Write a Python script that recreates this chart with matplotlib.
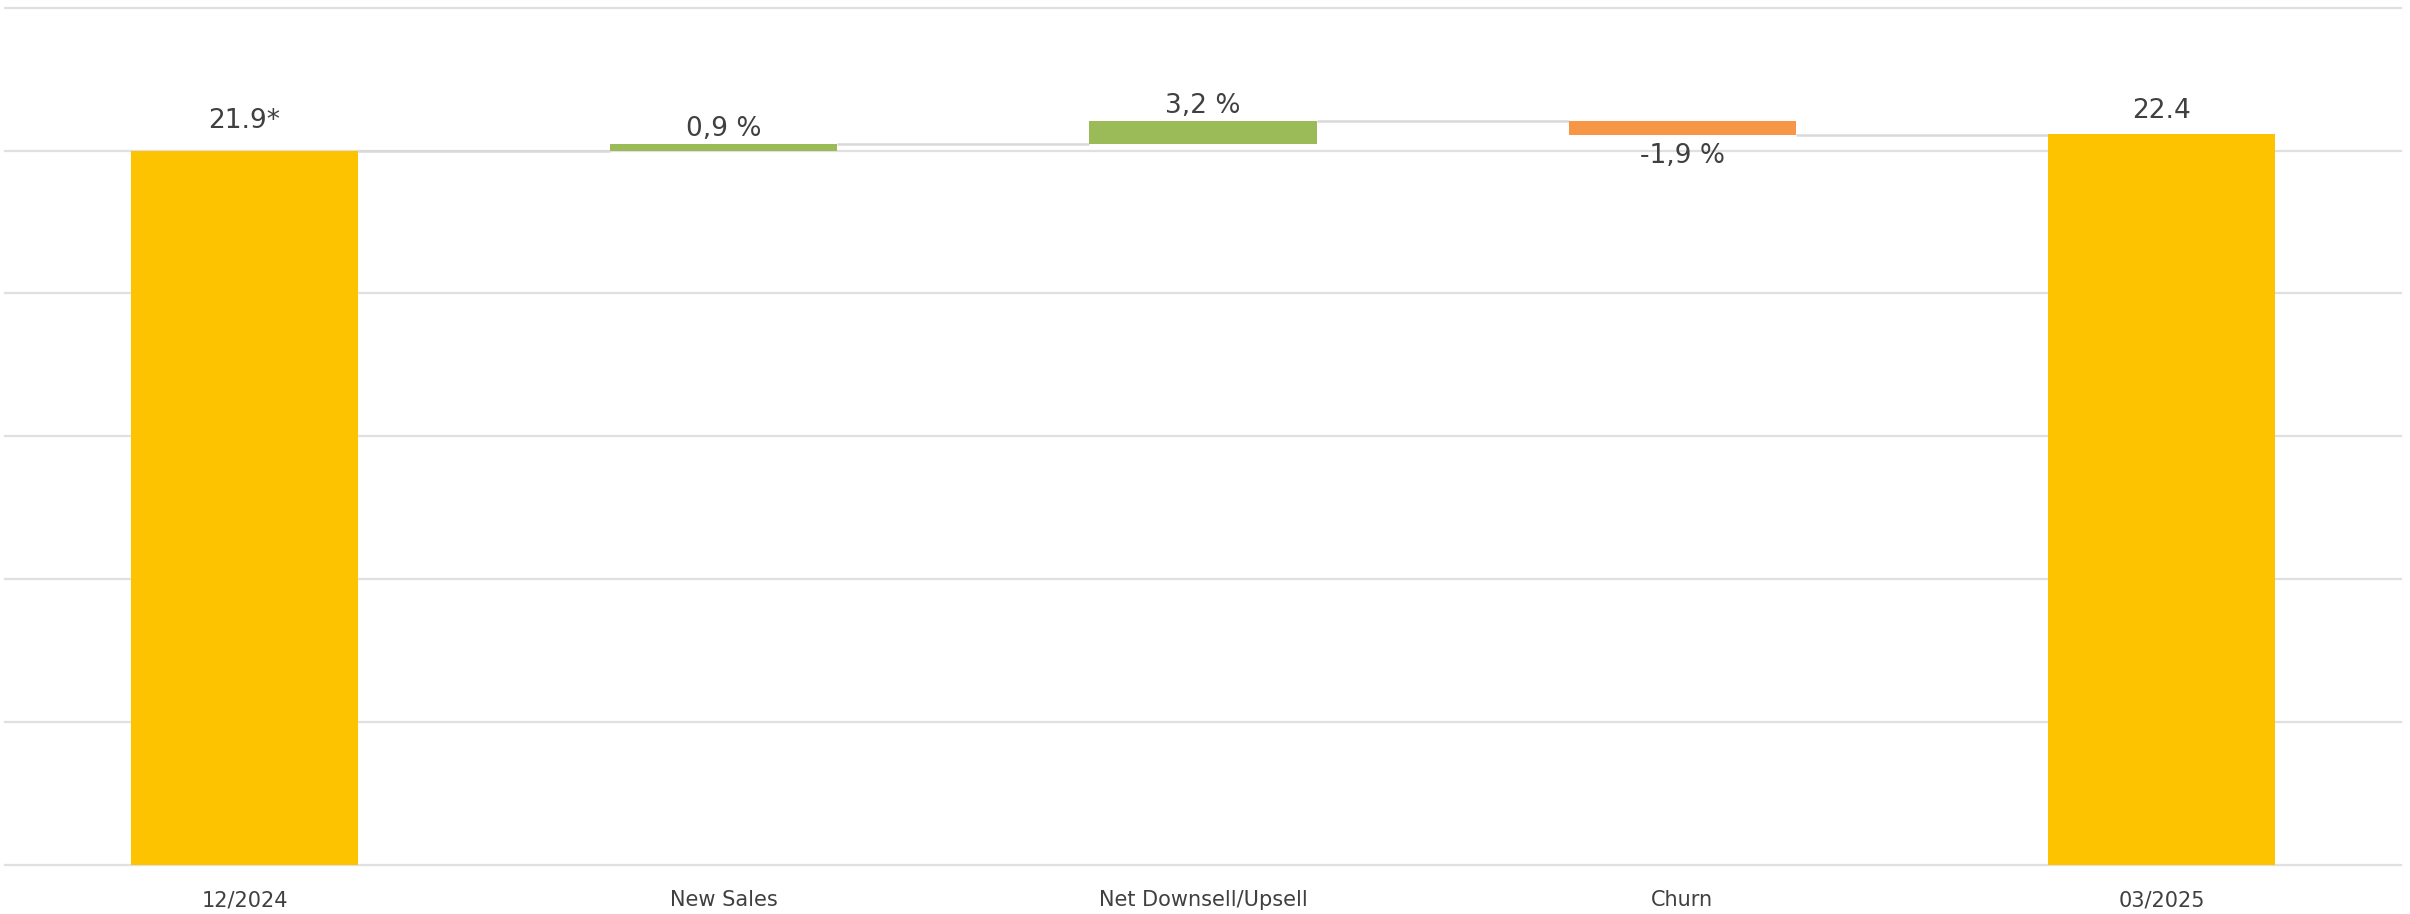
import matplotlib
matplotlib.use("Agg")
import matplotlib.pyplot as plt
import numpy as np

categories = ["12/2024", "New Sales", "Net Downsell/Upsell", "Churn", "03/2025"]
start_value = 21.9
deltas = [0.2, 0.7, -0.42]
end_value = 22.4
labels = ["21.9*", "0,9 %", "3,2 %", "-1,9 %", "22.4"]

plt.rcParams['font.family'] = ['Liberation Sans Narrow', 'DejaVu Sans']

fig = plt.figure(figsize=(24.10, 9.14), dpi=100)
ax = fig.add_axes([5 / 2410, 1 - 865 / 914, 2396 / 2410, (865 - 7.7) / 914])

yellow = "#FDC300"
green = "#9BBB59"
orange = "#F79646"
grid_c = "#E0E0E0"
conn_c = "#D9D9D9"
text_c = "#404040"

x = np.arange(len(categories))
w = 0.474

bottoms, heights, colors = [], [], []
bottoms.append(0); heights.append(start_value); colors.append(yellow)
running = start_value
levels = [start_value]
for d in deltas:
    if d >= 0:
        bottoms.append(running); heights.append(d); colors.append(green)
    else:
        bottoms.append(running + d); heights.append(-d); colors.append(orange)
    running += d
    levels.append(running)
bottoms.append(0); heights.append(end_value); colors.append(yellow)

step = start_value / 5
ax.set_ylim(0, step * 6)
ax.set_xlim(-0.5, len(categories) - 0.5)
for k in range(7):
    ax.axhline(k * step, color=grid_c, lw=1.6, zorder=0, clip_on=False)

# connectors
for i in range(len(categories) - 1):
    ax.plot([x[i] + w / 2, x[i + 1] - w / 2], [levels[i], levels[i]],
            color=conn_c, lw=1.8, zorder=1, solid_capstyle='butt')

ax.bar(x, heights, bottom=bottoms, width=w, color=colors, zorder=2, linewidth=0)

offsets = [12, 1.5, 1.5, -6, 7.6]
for i, lab in enumerate(labels):
    top = bottoms[i] + heights[i]
    if offsets[i] >= 0:
        ax.annotate(lab, (x[i], top), xytext=(0, offsets[i]), textcoords='offset points',
                    ha='center', va='bottom', fontsize=19, color=text_c)
    else:
        ax.annotate(lab, (x[i], bottoms[i]), xytext=(0, offsets[i]), textcoords='offset points',
                    ha='center', va='top', fontsize=19, color=text_c)

ax.set_xticks(x)
ax.set_xticklabels(categories, fontsize=15, color=text_c)
ax.tick_params(axis='x', length=0, pad=18)
ax.set_yticks([])
for s in ax.spines.values():
    s.set_visible(False)

fig.savefig("out.png", dpi=100, facecolor="white")
